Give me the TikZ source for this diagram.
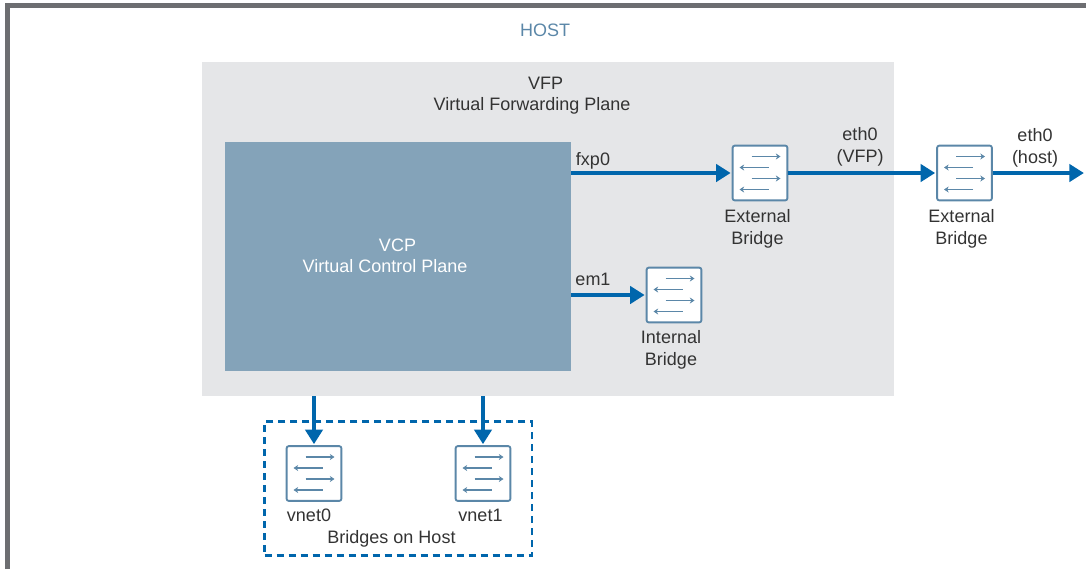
\documentclass[tikz,border=0pt]{standalone}
\usepackage{fontspec}
\setmainfont{Liberation Sans}
\usetikzlibrary{arrows.meta}
\definecolor{hostframe}{HTML}{6D6E71}
\definecolor{vfpfill}{HTML}{E5E6E8}
\definecolor{vcpfill}{HTML}{84A3B9}
\definecolor{linkblue}{HTML}{0066AC}
\definecolor{iconblue}{HTML}{5B87A8}
\definecolor{labelgray}{HTML}{333333}
\tikzset{
  label_text/.style={text=labelgray, align=center, inner sep=0pt, font=\fontsize{13.5}{16.5}\selectfont},
  bridge/.style={draw=iconblue, fill=white, line width=1.4pt, rounded corners=1.5pt, minimum size=41pt, inner sep=0pt},
  link/.style={draw=linkblue, line width=3.4pt, arrows = {-Triangle[width=13pt, length=11pt]}, shorten >=0.8pt},
  icon_arrow/.style={draw=iconblue, line width=1.4pt, arrows = {-Stealth[width=4.5pt, length=3.5pt]}}
}
\newcommand{\bridgearrows}[1]{
  \foreach \ya in {-16.5, 5.5} {
    \draw[icon_arrow] ([shift={(-8.5, \ya)}]#1.center) -- ([shift={(20.5, \ya)}]#1.center);
  }
  \foreach \yb in {-5.5, 16.5} {
    \draw[icon_arrow] ([shift={(8.5, \yb)}]#1.center) -- ([shift={(-20.5, \yb)}]#1.center);
  }
}

\begin{document}
\begin{tikzpicture}[x=0.75pt, y=-0.75pt]
\useasboundingbox (0, 0) rectangle (1086, 569);
\draw[hostframe, line width=3.75pt] (7.5, 569) -- (7.5, 5.5) -- (1086, 5.5);
\node[label_text, text=iconblue] (host_title) at (545, 30) {HOST};

% planes
\node[fill=vfpfill, minimum width=519pt, minimum height=250.5pt, inner sep=0pt] (vfp) at (548, 229) {};
\node[label_text] (vfp_title) at (545.5, 83) {VFP};
\node[label_text] (vfp_subtitle) at (532, 106) {Virtual Forwarding Plane};
\node[fill=vcpfill, minimum width=259.5pt, minimum height=171.75pt, inner sep=0pt] (vcp) at (398, 256.5) {};
\node[label_text, text=white] (vcp_title) at (397.5, 245) {VCP};
\node[label_text, text=white] (vcp_subtitle) at (385, 266) {Virtual Control Plane};

% bridges
\node[bridge] (ext_vfp) at (760, 173) {};
\node[bridge] (ext_host) at (964.5, 173) {};
\node[bridge] (int_vfp) at (674, 295) {};
\node[draw=linkblue, dashed, line width=1.9pt, dash pattern=on 5.5pt off 3.5pt, minimum width=200.5pt, minimum height=100.5pt, inner sep=0pt] (host_group) at (398.25, 488.75) {};
\node[bridge] (vnet0) at (314, 473.5) {};
\node[bridge] (vnet1) at (483, 473.5) {};
\bridgearrows{ext_vfp}
\bridgearrows{ext_host}
\bridgearrows{int_vfp}
\bridgearrows{vnet0}
\bridgearrows{vnet1}

\node[label_text] (ext_vfp_label) at (757.5, 229) {External\\Bridge};
\node[label_text] (ext_host_label) at (961.5, 229) {External\\Bridge};
\node[label_text] (int_vfp_label) at (671, 350) {Internal\\Bridge};
\node[label_text] (vnet0_label) at (309, 515) {vnet0};
\node[label_text] (vnet1_label) at (480.5, 515) {vnet1};
\node[label_text] (group_label) at (391.5, 539) {Bridges on Host};

% links
\coordinate (host_out) at (1085, 173);
\draw[link] (vcp.east |- ext_vfp) -- (ext_vfp);
\draw[link] (ext_vfp) -- (ext_host.west);
\draw[link] (ext_host) -- (host_out);
\draw[link] (vcp.east |- int_vfp) -- (int_vfp.west);
\draw[link] (vfp.south -| vnet0) -- (vnet0.north);
\draw[link] (vfp.south -| vnet1) -- (vnet1.north);
\node[label_text] (fxp0_label) at (593, 161) {fxp0};
\node[label_text] (em1_label) at (593, 279) {em1};
\node[label_text] (eth0_vfp_label) at (860, 147) {eth0\\(VFP)};
\node[label_text] (eth0_host_label) at (1035, 148) {eth0\\(host)};
\end{tikzpicture}
\end{document}
